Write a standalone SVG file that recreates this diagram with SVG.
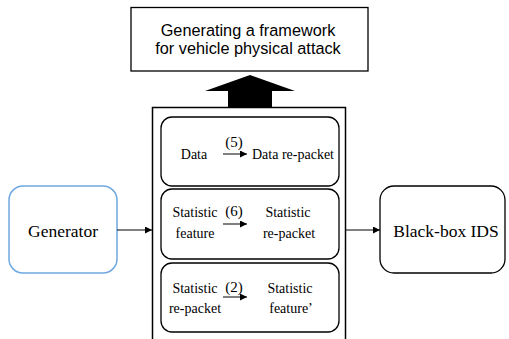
<svg xmlns="http://www.w3.org/2000/svg" width="509" height="339" viewBox="0 0 509 339">
  <style>
    .serif { font-family: "Liberation Serif", "Times New Roman", serif; fill: #000; }
    .sans { font-family: "Liberation Sans", Arial, sans-serif; fill: #000; }
    .box { fill: #fff; stroke: #000; stroke-width: 1.3; }
    .conn { stroke: #000; stroke-width: 1; fill: none; }
  </style>
  <defs>
    <marker id="arrow" viewBox="0 0 10 10" refX="10" refY="5" markerWidth="7" markerHeight="7" orient="auto" markerUnits="userSpaceOnUse">
      <path d="M0,0 L10,5 L0,10 z" fill="#000"/>
    </marker>
  </defs>
  <rect width="509" height="339" fill="#fff"/>

  <g id="framework">
    <rect x="131" y="7.5" width="237" height="63.5" class="box" stroke-width="1"/>
    <text class="sans" font-size="16.3" text-anchor="middle" x="248" y="36">Generating a framework</text>
    <text class="sans" font-size="16.3" text-anchor="middle" x="248" y="54">for vehicle physical attack</text>
  </g>

  <g id="pipeline">
    <rect x="152.5" y="107.5" width="193" height="240" fill="#fff" stroke="#000" stroke-width="1.5"/>
  </g>

  <g id="step-data">
    <rect x="161" y="117" width="178" height="69" rx="11" class="box"/>
    <text class="serif" font-size="14" text-anchor="middle" x="194" y="159">Data</text>
    <text class="serif" font-size="15" text-anchor="middle" x="234" y="147">(5)</text>
    <text class="serif" font-size="14" text-anchor="middle" x="293" y="159">Data re-packet</text>
  </g>

  <g id="step-feature">
    <rect x="161" y="189" width="178" height="70" rx="11" class="box"/>
    <text class="serif" font-size="14" text-anchor="middle" x="195" y="217">Statistic</text>
    <text class="serif" font-size="14" text-anchor="middle" x="195" y="238">feature</text>
    <text class="serif" font-size="15" text-anchor="middle" x="234" y="216">(6)</text>
    <text class="serif" font-size="14" text-anchor="middle" x="288" y="217">Statistic</text>
    <text class="serif" font-size="14" text-anchor="middle" x="289" y="238">re-packet</text>
  </g>

  <g id="step-repacket">
    <rect x="161" y="263" width="178" height="69" rx="11" class="box"/>
    <text class="serif" font-size="14" text-anchor="middle" x="195" y="293">Statistic</text>
    <text class="serif" font-size="14" text-anchor="middle" x="195" y="313">re-packet</text>
    <text class="serif" font-size="15" text-anchor="middle" x="234" y="292">(2)</text>
    <text class="serif" font-size="14" text-anchor="middle" x="290" y="293">Statistic</text>
    <text class="serif" font-size="14" text-anchor="middle" x="291" y="313">feature’</text>
  </g>

  <g id="generator">
    <rect x="9" y="186" width="108" height="87" rx="14" fill="#fff" stroke="#6fa8e0" stroke-width="1.5"/>
    <text class="serif" font-size="17.5" text-anchor="middle" x="63" y="237">Generator</text>
  </g>

  <g id="ids">
    <rect x="380" y="186" width="125" height="87" rx="14" class="box"/>
    <text class="serif" font-size="17.5" text-anchor="middle" x="446" y="237">Black-box IDS</text>
  </g>

  <g id="connectors">
    <path d="M223,154 H247" class="conn" marker-end="url(#arrow)"/>
    <path d="M223,224 H247" class="conn" marker-end="url(#arrow)"/>
    <path d="M223,297 H247" class="conn" marker-end="url(#arrow)"/>
    <path d="M117,230 H152" class="conn" marker-end="url(#arrow)"/>
    <path d="M346,230 H380" class="conn" marker-end="url(#arrow)"/>
    <path d="M228,107 V91 H205 L250,75 L295,91 H272 V107 z" fill="#000"/>
  </g>
</svg>
